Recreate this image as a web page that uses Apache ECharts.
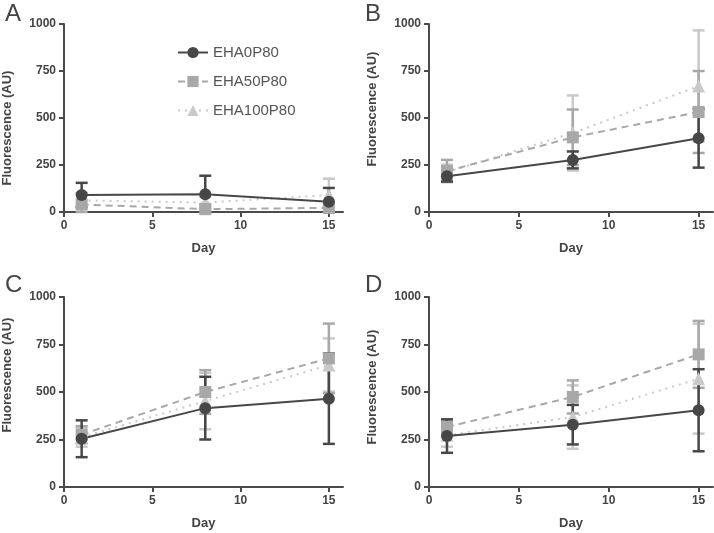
<!DOCTYPE html>
<html>
<head>
<meta charset="utf-8">
<script src="https://cdn.jsdelivr.net/npm/echarts@6/dist/echarts.min.js"></script>
<style>
  html, body { margin: 0; padding: 0; background: #fff; }
  #chart { width: 714px; height: 533px; }
</style>
</head>
<body>
<div id="chart"></div>
<script>
// days sampled
const days = [1, 8, 15];
const names = ['EHA0P80', 'EHA50P80', 'EHA100P80'];
const panelLetters = ['A', 'B', 'C', 'D'];
const xTicks = [0, 5, 10, 15];

// panel A
const aMean0 = [91, 94, 54],   aErr0 = [64, 99, 74];
const aMean50 = [40, 15, 22],  aErr50 = [60, 25, 30];
const aMean100 = [62, 50, 90], aErr100 = [40, 30, 87];
// panel B
const bMean0 = [190, 277, 392],   bErr0 = [28, 45, 156];
const bMean50 = [218, 397, 532],  bErr50 = [59, 148, 218];
const bMean100 = [212, 420, 670], bErr100 = [40, 200, 296];
// panel C
const cMean0 = [254, 415, 465],   cErr0 = [97, 165, 238];
const cMean50 = [275, 500, 677],  cErr50 = [45, 115, 183];
const cMean100 = [262, 452, 642], cErr100 = [50, 148, 140];
// panel D
const dMean0 = [268, 328, 404],   dErr0 = [88, 104, 216];
const dMean50 = [316, 474, 698],  dErr50 = [40, 87, 176];
const dMean100 = [272, 368, 570], dErr100 = [60, 167, 289];

const panels = [
  [[aMean0, aErr0], [aMean50, aErr50], [aMean100, aErr100]],
  [[bMean0, bErr0], [bMean50, bErr50], [bMean100, bErr100]],
  [[cMean0, cErr0], [cMean50, cErr50], [cMean100, cErr100]],
  [[dMean0, dErr0], [dMean50, dErr50], [dMean100, dErr100]]
];

const colors = ['#474747', '#a8a8a8', '#c9c9c9'];
const lineTypes = ['solid', [7, 5], [2, 5]];
const symbols = ['circle', 'rect', 'triangle'];

const grids = [
  { left: 61, top: 24, width: 282, height: 188 },
  { left: 429, top: 24, width: 284, height: 188 },
  { left: 61, top: 297, width: 282, height: 190 },
  { left: 429, top: 297, width: 284, height: 190 }
];
// y-axis titles are not centred the same way in every panel
const yNamePad = [[0, 20, 0, 0], [0, 0, 0, 18], [0, 0, 0, 34], [0, 0, 0, 10]];

const FONT = 'Liberation Sans';
const axisColor = '#4a4a4a';

function errorBar(color) {
  return function (params, api) {
    const x = api.value(0);
    const lo = Math.max(api.value(1), 0);
    const hi = api.value(2);
    const top = api.coord([x, hi]);
    const bot = api.coord([x, lo]);
    const w = 6;
    const style = { stroke: color, lineWidth: 2.5 };
    return {
      type: 'group',
      children: [
        { type: 'line', shape: { x1: top[0], y1: top[1], x2: bot[0], y2: bot[1] }, style: style },
        { type: 'line', shape: { x1: top[0] - w, y1: top[1], x2: top[0] + w, y2: top[1] }, style: style },
        { type: 'line', shape: { x1: bot[0] - w, y1: bot[1], x2: bot[0] + w, y2: bot[1] }, style: style }
      ]
    };
  };
}

const xAxes = [], yAxes = [], series = [];
grids.forEach(function (g, i) {
  xAxes.push({
    gridIndex: i, type: 'value', min: 0, max: 15.8,
    name: 'Day', nameLocation: 'middle', nameGap: 30,
    nameTextStyle: { fontFamily: FONT, fontSize: 13, color: '#444', fontWeight: 'bold' },
    splitLine: { show: false },
    axisLine: { lineStyle: { color: axisColor, width: 2 } },
    axisTick: { customValues: xTicks, length: 5, lineStyle: { color: axisColor, width: 2 } },
    axisLabel: { customValues: xTicks, fontFamily: FONT, fontSize: 12, color: '#444', fontWeight: 'bold', margin: 8 }
  });
  yAxes.push({
    gridIndex: i, type: 'value', min: 0, max: 1000, interval: 250,
    name: 'Fluorescence (AU)', nameLocation: 'middle', nameGap: 50,
    nameTextStyle: { fontFamily: FONT, fontSize: 13, color: '#444', fontWeight: 'bold', padding: yNamePad[i] },
    splitLine: { show: false },
    axisLine: { show: true, lineStyle: { color: axisColor, width: 2 } },
    axisTick: { show: true, length: 5, lineStyle: { color: axisColor, width: 2 } },
    axisLabel: {
      fontFamily: FONT, fontSize: 12, color: '#444', fontWeight: 'bold', margin: 8,
      formatter: function (v) { return String(v); }
    }
  });
  // lightest first so the dark group sits on top
  for (let s = 2; s >= 0; s--) {
    const mean = panels[i][s][0], err = panels[i][s][1];
    series.push({
      name: names[s], type: 'line', xAxisIndex: i, yAxisIndex: i, z: 3,
      symbol: symbols[s], symbolSize: s === 2 ? 13 : 12,
      itemStyle: { color: colors[s] },
      lineStyle: { color: colors[s], width: 2, type: lineTypes[s] },
      data: days.map(function (d, k) { return [d, mean[k]]; })
    });
    series.push({
      name: names[s], type: 'custom', xAxisIndex: i, yAxisIndex: i,
      renderItem: errorBar(colors[s]), silent: true, z: 2,
      itemStyle: { color: colors[s] },
      data: days.map(function (d, k) { return [d, mean[k] - err[k], mean[k] + err[k]]; })
    });
  }
});

const chart = echarts.init(document.getElementById('chart'), null, { renderer: 'canvas' });
chart.setOption({
  animation: false,
  backgroundColor: '#fff',
  title: panelLetters.map(function (t, i) {
    return {
      text: t, left: i % 2 === 0 ? 0 : 360, top: i < 2 ? -3 : 268,
      textStyle: { fontFamily: FONT, fontSize: 24, fontWeight: 'normal', color: '#444' }
    };
  }),
  legend: {
    data: names, orient: 'vertical', left: 172, top: 40,
    itemWidth: 30, itemHeight: 14, itemGap: 14,
    textStyle: { fontFamily: FONT, fontSize: 15, color: '#555' }
  },
  grid: grids,
  xAxis: xAxes,
  yAxis: yAxes,
  series: series
});
</script>
</body>
</html>
